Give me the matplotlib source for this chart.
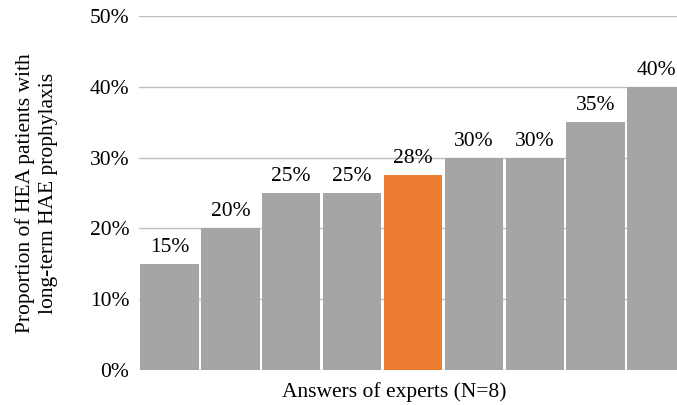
import matplotlib.pyplot as plt
import numpy as np

plt.rcParams['font.family'] = ['Liberation Serif', 'DejaVu Serif']

# answers of the 8 experts plus the mean (orange)
values = [15, 20, 25, 25, 27.5, 30, 30, 35, 40]
labels = ['15%', '20%', '25%', '25%', '28%', '30%', '30%', '35%', '40%']
colors = ['#a5a5a5'] * 4 + ['#ed7d31'] + ['#a5a5a5'] * 4
yticks = [0, 10, 20, 30, 40, 50]

fs = 15.5
fig = plt.figure(figsize=(6.77, 4.05), dpi=100)
ax = fig.add_axes([139 / 677, 35 / 405, 548 / 677, 354 / 405])

x = np.arange(len(values))
bars = ax.bar(x, values, width=0.96, color=colors, zorder=2)
for xi, v, lab in zip(x, values, labels):
    ax.text(xi, v + 1.0, lab, ha='center', va='bottom', fontsize=fs, zorder=3)

ax.set_xlim(-0.5, len(values) - 0.5)
ax.set_ylim(0, 50)
ax.set_yticks(yticks)
ax.set_yticklabels([f'{t}%' for t in yticks], fontsize=fs)
ax.set_xticks([])
ax.tick_params(axis='y', length=0, pad=7)
ax.grid(axis='y', color='#bfbfbf', linewidth=1, zorder=0)
for s in ax.spines.values():
    s.set_visible(False)

ax.set_ylabel('Proportion of HEA patients with\nlong-term HAE prophylaxis', fontsize=fs, linespacing=1.3)
ax.yaxis.set_label_coords(-(139 - 58) / 548, 0.5)
ax.set_xlabel('Answers of experts (N=8)', fontsize=fs)
ax.xaxis.set_label_coords((394 - 139) / 548, -12 / 354)

plt.savefig('out.png', dpi=100)
